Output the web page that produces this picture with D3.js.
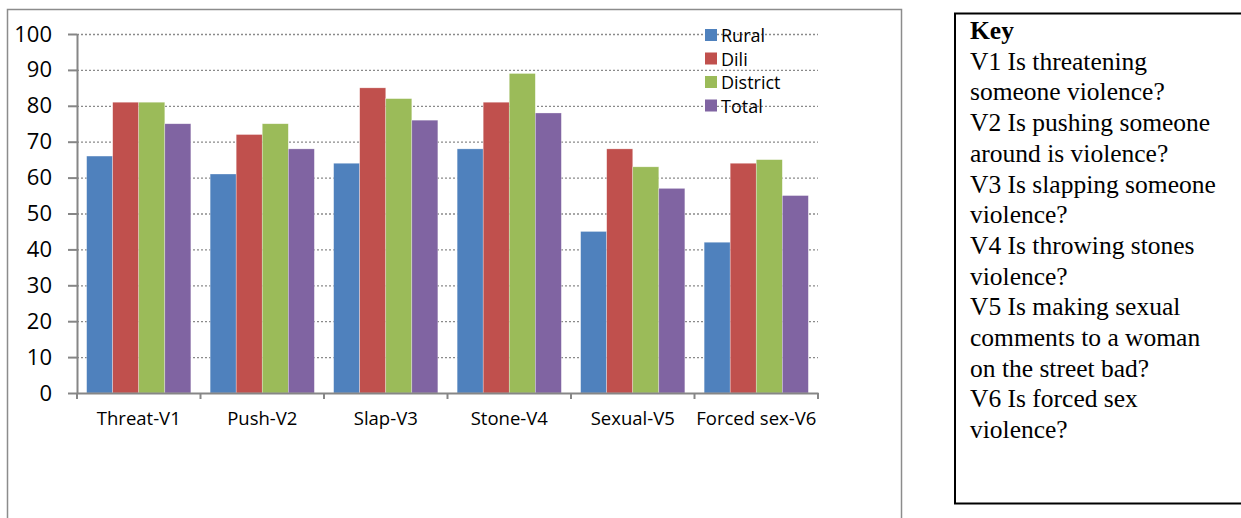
<!DOCTYPE html>
<html>
<head>
<meta charset="utf-8">
<script src="https://cdn.jsdelivr.net/npm/d3@7"></script>
<style>
  body { margin: 0; background: #fff; }
  svg { display: block; }
</style>
</head>
<body>
<div id="chart-area"></div>
<script>
const categories = ['Threat-V1', 'Push-V2', 'Slap-V3', 'Stone-V4', 'Sexual-V5', 'Forced sex-V6'];
const seriesNames = ['Rural', 'Dili', 'District', 'Total'];
const rural = [66, 61, 64, 68, 45, 42];
const dili = [81, 72, 85, 81, 68, 64];
const district = [81, 75, 82, 89, 63, 65];
const total = [75, 68, 76, 78, 57, 55];
const yTicks = [0, 10, 20, 30, 40, 50, 60, 70, 80, 90, 100];
const keyLines = [
    'V1 Is threatening', 'someone violence?',
    'V2 Is pushing someone', 'around is violence?',
    'V3 Is slapping someone', 'violence?',
    'V4 Is throwing stones', 'violence?',
    'V5 Is making sexual', 'comments to a woman', 'on the street bad?',
    'V6 Is forced sex', 'violence?'
];
const colors = ['#4f81bd', '#c0504d', '#9bbb59', '#8064a2'];

const seriesValues = [rural, dili, district, total];
const data = categories.map((c, i) => ({
    cat: c,
    values: seriesNames.map((s, j) => ({ name: s, value: seriesValues[j][i] }))
}));

const MARGINS = { top: 34, left: 77 };
const CHART_WIDTH = 741;
const CHART_HEIGHT = 359;

const svg = d3.select('#chart-area')
    .append('svg')
    .attr('width', 1241)
    .attr('height', 518);

// outer chart border
svg.append('rect')
    .attr('x', 7.5).attr('y', 9.5)
    .attr('width', 894).attr('height', 520)
    .attr('fill', 'none')
    .attr('stroke', '#8c8c8c')
    .attr('stroke-width', 1.5);

const g = svg.append('g')
    .attr('transform', `translate(${MARGINS.left}, ${MARGINS.top})`);

const xScale = d3.scaleBand().domain(categories).range([0, CHART_WIDTH]);
const xInner = d3.scaleBand().domain(seriesNames)
    .range([0, xScale.bandwidth()]).paddingOuter(0.37);
const yScale = d3.scaleLinear().domain([0, 100]).range([CHART_HEIGHT, 0]);

// gridlines
g.append('g')
    .selectAll('line')
    .data(yTicks.filter(d => d > 0))
    .enter()
    .append('line')
    .attr('x1', 0).attr('x2', CHART_WIDTH)
    .attr('y1', d => yScale(d) + 0.5).attr('y2', d => yScale(d) + 0.5)
    .attr('stroke', '#8a8a8a')
    .attr('stroke-width', 1.3)
    .attr('stroke-dasharray', '2,2');

// bars
const groups = g.selectAll('.group')
    .data(data)
    .enter()
    .append('g')
    .attr('class', 'group')
    .attr('transform', d => `translate(${xScale(d.cat)}, 0)`);

groups.selectAll('rect')
    .data(d => d.values)
    .enter()
    .append('rect')
    .attr('x', d => xInner(d.name))
    .attr('width', xInner.bandwidth())
    .attr('y', d => yScale(d.value))
    .attr('height', d => CHART_HEIGHT - yScale(d.value))
    .attr('fill', (d, i) => colors[i])
    .attr('stroke', '#ffffff')
    .attr('stroke-opacity', 0.5)
    .attr('stroke-width', 0.6);

// y axis
const yAxisGroup = g.append('g')
    .call(d3.axisLeft(yScale).tickValues(yTicks).tickSize(9).tickSizeOuter(0).tickPadding(16));
yAxisGroup.select('.domain').attr('stroke', '#868686').attr('stroke-width', 2);
yAxisGroup.selectAll('.tick line').attr('stroke', '#868686').attr('stroke-width', 2);
yAxisGroup.selectAll('text')
    .attr('font-family', 'Open Sans, sans-serif')
    .attr('font-size', '22px')
    .attr('fill', '#000');

// x axis
const xAxisGroup = g.append('g')
    .attr('transform', `translate(0, ${CHART_HEIGHT})`)
    .call(d3.axisBottom(xScale).tickSize(0).tickSizeOuter(0).tickPadding(19));
xAxisGroup.select('.domain').attr('stroke', '#868686').attr('stroke-width', 2);
xAxisGroup.selectAll('text')
    .attr('font-family', 'Open Sans, sans-serif')
    .attr('font-size', '18.5px')
    .attr('fill', '#000');
// category boundary ticks
xAxisGroup.append('g')
    .selectAll('line')
    .data(d3.range(categories.length + 1))
    .enter()
    .append('line')
    .attr('x1', i => i * xScale.step()).attr('x2', i => i * xScale.step())
    .attr('y1', 0).attr('y2', 6)
    .attr('stroke', '#868686')
    .attr('stroke-width', 2);

// legend
const legend = svg.append('g')
    .attr('transform', 'translate(705, 29)');
const items = legend.selectAll('g')
    .data(seriesNames)
    .enter()
    .append('g')
    .attr('transform', (d, i) => `translate(0, ${i * 23.5})`);
items.append('rect')
    .attr('width', 12).attr('height', 12)
    .attr('fill', (d, i) => colors[i]);
items.append('text')
    .attr('x', 16).attr('y', 13)
    .attr('font-family', 'Open Sans, sans-serif')
    .attr('font-size', '18px')
    .attr('fill', '#000')
    .text(d => d);

// key box
svg.append('rect')
    .attr('x', 955).attr('y', 13.5)
    .attr('width', 300).attr('height', 490)
    .attr('fill', 'none')
    .attr('stroke', '#000')
    .attr('stroke-width', 2);

const key = svg.append('text')
    .attr('font-family', "'Liberation Serif', 'Times New Roman', serif")
    .attr('font-size', '25.5px')
    .attr('fill', '#000');
key.append('tspan')
    .attr('x', 970).attr('y', 39)
    .attr('font-weight', 'bold')
    .text('Key');
key.selectAll('.kl')
    .data(keyLines)
    .enter()
    .append('tspan')
    .attr('class', 'kl')
    .attr('x', 970)
    .attr('y', (d, i) => 39 + (i + 1) * 30.7)
    .text(d => d);
</script>
</body>
</html>
